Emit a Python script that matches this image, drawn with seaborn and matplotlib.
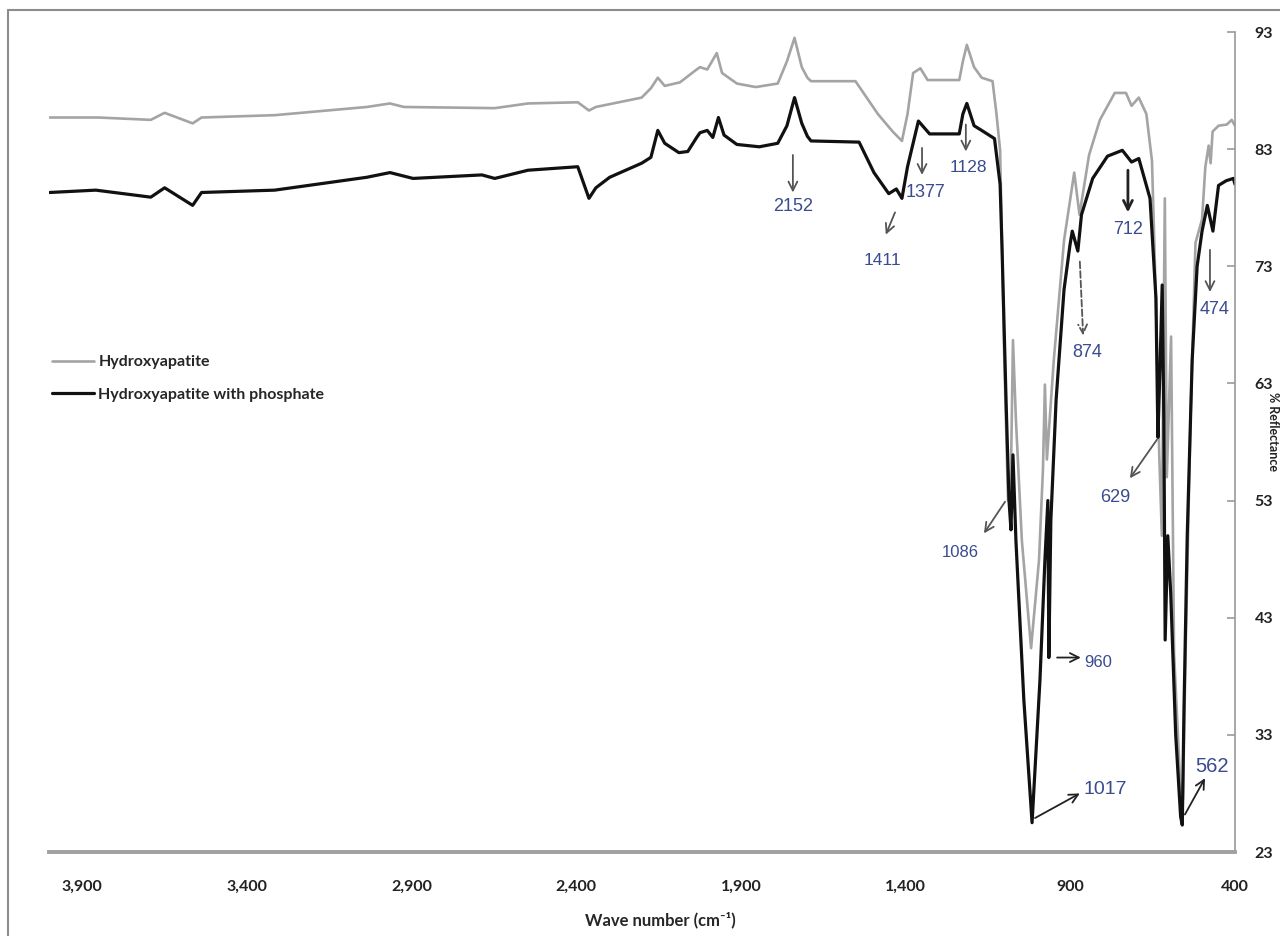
import numpy as np
import pandas as pd
import matplotlib
matplotlib.use("Agg")
import matplotlib.pyplot as plt
import seaborn as sns
from matplotlib.lines import Line2D

# ---------------- data ----------------
ha_wn = [3998, 3850, 3691, 3649, 3564, 3537, 3315, 3035, 2965, 2923, 2647, 2546, 2395,
         2361, 2340, 2201, 2173, 2152, 2131, 2085, 2034, 2024, 2002, 1973, 1957, 1912,
         1855, 1788, 1760, 1737, 1715, 1698, 1687, 1552, 1484, 1439, 1411, 1394, 1377,
         1355, 1333, 1237, 1226, 1214, 1192, 1169, 1136, 1124, 1113, 1101, 1089, 1080,
         1074, 1065, 1047, 1019, 995, 983, 977, 971, 950, 919, 888, 872, 843, 810, 765,
         731, 714, 692, 669, 652, 640, 630, 622, 613, 607, 594, 585, 565, 558, 550,
         535, 520, 500, 490, 480, 474, 468, 450, 425, 410, 400]
ha_r = [85.7, 85.7, 85.5, 86.1, 85.2, 85.7, 85.9, 86.6, 86.9, 86.6, 86.5, 86.9, 87.0,
        86.3, 86.6, 87.4, 88.2, 89.1, 88.4, 88.7, 89.8, 90.0, 89.8, 91.2, 89.5, 88.6,
        88.3, 88.6, 90.5, 92.5, 90.0, 89.1, 88.8, 88.8, 86.0, 84.5, 83.7, 86.0, 89.5,
        89.9, 88.9, 88.9, 90.5, 91.9, 90.0, 89.1, 88.8, 86.0, 82.9, 65.9, 53.0, 55.6,
        66.7, 59.9, 49.6, 40.4, 47.9, 55.6, 62.9, 56.5, 65.0, 75.2, 81.0, 77.4, 82.5,
        85.5, 87.8, 87.8, 86.7, 87.4, 86.0, 82.0, 70.0, 57.0, 50.0, 78.8, 55.0,
        67.0, 40.0, 28.0, 27.5, 40.0, 60.0, 75.0, 77.0, 81.5, 83.3, 81.8, 84.5, 85.0,
        85.1, 85.5, 85.0]

hap_wn = [3998, 3858, 3691, 3649, 3564, 3537, 3315, 3035, 2965, 2895, 2686, 2647, 2546,
          2395, 2361, 2340, 2298, 2201, 2173, 2152, 2131, 2088, 2061, 2034, 2024, 2002,
          1985, 1968, 1951, 1912, 1844, 1788, 1760, 1737, 1715, 1698, 1687, 1541, 1496,
          1451, 1428, 1411, 1394, 1361, 1327, 1237, 1226, 1214, 1192, 1169, 1130, 1113,
          1107, 1095, 1086, 1080, 1074, 1065, 1041, 1016, 992, 977, 968, 965, 959, 943,
          919, 901, 894, 877, 866, 832, 787, 742, 714, 692, 658, 640, 634, 628, 621, 616,
          612, 604, 595, 580, 565, 560, 555, 545, 530, 515, 500, 484, 467, 450, 427, 405,
          400]
hap_r = [79.3, 79.5, 78.9, 79.7, 78.2, 79.3, 79.5, 80.6, 81.0, 80.5, 80.8, 80.5, 81.2,
         81.5, 78.8, 79.7, 80.6, 81.8, 82.3, 84.6, 83.5, 82.7, 82.8, 84.0, 84.4, 84.6,
         84.0, 85.7, 84.2, 83.4, 83.2, 83.5, 85.0, 87.4, 85.2, 84.1, 83.7, 83.6, 81.0,
         79.2, 79.6, 78.8, 81.5, 85.4, 84.3, 84.3, 86.0, 86.9, 85.0, 84.6, 83.9, 80.0,
         74.4, 61.6, 53.0, 50.5, 56.9, 49.6, 36.0, 25.5, 37.7, 47.9, 53.0, 39.6, 51.3,
         61.6, 71.0, 74.8, 76.0, 74.3, 77.4, 80.5, 82.4, 82.9, 81.9, 82.2, 78.8, 70.3,
         58.4, 64.0, 71.4, 60.0, 41.1, 50.0, 45.0, 33.0, 26.0, 25.3, 35.0, 50.0, 65.0,
         73.0, 76.0, 78.2, 76.0, 79.9, 80.3, 80.5, 80.0]

series_names = ["Hydroxyapatite", "Hydroxyapatite with phosphate"]

x_ticks = [3900, 3400, 2900, 2400, 1900, 1400, 900, 400]
x_tick_labels = ["3,900", "3,400", "2,900", "2,400", "1,900", "1,400", "900", "400"]
y_ticks = [23, 33, 43, 53, 63, 73, 83, 93]

peak_labels = ["2152", "1411", "1377", "1128", "712", "874", "474", "629",
               "1086", "960", "1017", "562"]
label_wn = [1742, 1469, 1338, 1208, 725, 849, 461, 764, 1235, 816, 795, 470]
label_r = [78.1, 73.5, 79.3, 81.4, 76.1, 65.6, 69.3, 53.3, 48.6, 39.2, 28.3, 30.3]
arrow_tail_wn = [1742, 1432, 1350, 1217, 725, 871, 476, 637, 1098, 940, 1007, 552]
arrow_tail_r = [82.5, 77.6, 83.1, 85.1, 81.2, 73.4, 74.4, 58.2, 52.9, 39.6, 25.9, 26.2]
arrow_head_wn = [1742, 1460, 1350, 1217, 725, 861, 476, 719, 1162, 868, 871, 491]
arrow_head_r = [79.3, 75.7, 80.8, 82.8, 77.6, 67.1, 70.8, 54.9, 50.2, 39.6, 28.0, 29.3]

# ---------------- styling ----------------
sns.set_theme(style="white")
plt.rcParams["font.family"] = ["Lato", "DejaVu Sans"]

W, H = 1280, 936
fig = plt.figure(figsize=(W / 100, H / 100), dpi=100)
ax = fig.add_axes([49 / W, 1 - 852 / H, (1235 - 49) / W, (852 - 32) / H])

df = pd.concat([
    pd.DataFrame({"wn": ha_wn, "r": ha_r, "s": series_names[0]}),
    pd.DataFrame({"wn": hap_wn, "r": hap_r, "s": series_names[1]}),
], ignore_index=True)

sns.lineplot(data=df[df.s == series_names[0]], x="wn", y="r", sort=False,
             estimator=None, color="#a4a4a4", lw=1.9, ax=ax, label=series_names[0])
sns.lineplot(data=df[df.s == series_names[1]], x="wn", y="r", sort=False,
             estimator=None, color="#111111", lw=2.3, ax=ax, label=series_names[1])

ax.set_xlim(4000, 400)
ax.set_ylim(23, 93)

for s in ["left", "top"]:
    ax.spines[s].set_visible(False)
ax.spines["right"].set_color("#9a9a9a")
ax.spines["right"].set_linewidth(1.2)
ax.spines["bottom"].set_color("#a0a0a0")
ax.spines["bottom"].set_linewidth(2.8)

ax.set_xticks(x_ticks)
ax.set_xticklabels(x_tick_labels)
ax.tick_params(axis="x", length=0, pad=20, labelsize=11.5, labelcolor="#222222")
for t in ax.get_xticklabels():
    t.set_fontweight("bold")

ax.yaxis.tick_right()
ax.set_yticks(y_ticks)
ax.tick_params(axis="y", direction="in", length=6, width=1.2, color="#9a9a9a",
               pad=14, labelsize=11.5, labelcolor="#222222", left=False, right=True)
for t in ax.get_yticklabels():
    t.set_fontweight("bold")

ax.set_xlabel("Wave number (cm\u207b\u00b9)", fontsize=12, fontweight="bold", labelpad=12)
ax.xaxis.set_label_coords((660 - 49) / (1235 - 49), -0.072)
ax.set_ylabel("")
fig.text(1273 / W, 1 - 432 / H, "% Reflectance", rotation=270, ha="center",
         va="center", fontsize=9, fontweight="bold", color="#222222")

# legend
ax.legend(loc="upper left", bbox_to_anchor=(52 / W, 1 - 355 / H),
          bbox_transform=fig.transFigure, frameon=False,
          handlelength=2.6, handletextpad=0.3, labelspacing=1.15, borderpad=0,
          borderaxespad=0, prop={"weight": "bold", "size": 11.5})

# annotations
arrow_styles = ["solid"] * 12
arrow_styles[5] = "dashed"
arrow_lw = [1.3] * 12
arrow_lw[4] = 2.0
arrow_col = ["#555555"] * 12
for i in (4, 9, 10, 11):
    arrow_col[i] = "#222222"
label_sizes = [13, 12.5, 13, 12.5, 13, 13, 13, 13, 12, 12, 14, 14.5]
for i, lab in enumerate(peak_labels):
    ax.annotate("", xy=(arrow_head_wn[i], arrow_head_r[i]),
                xytext=(arrow_tail_wn[i], arrow_tail_r[i]),
                arrowprops=dict(arrowstyle="->", color=arrow_col[i], lw=arrow_lw[i],
                                linestyle=arrow_styles[i], mutation_scale=16,
                                shrinkA=0, shrinkB=0))
    ax.text(label_wn[i], label_r[i], lab, ha="center", va="center",
            fontsize=label_sizes[i], color="#3a4b8f", family="Liberation Sans")

# outer border of the picture (left and top edges)
fig.add_artist(Line2D([8 / W, 8 / W], [0, 1 - 10 / H], transform=fig.transFigure,
                      color="#8c8c8c", lw=1.5))
fig.add_artist(Line2D([8 / W, 1], [1 - 10 / H, 1 - 10 / H], transform=fig.transFigure,
                      color="#8c8c8c", lw=1.5))

fig.savefig("out.png", dpi=100)
